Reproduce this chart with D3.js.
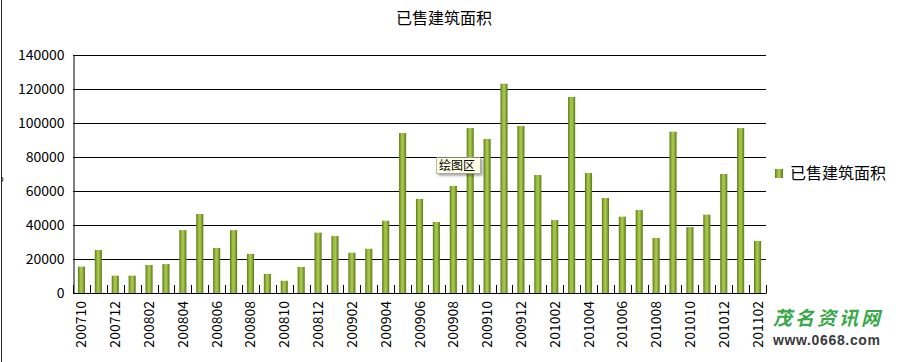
<!DOCTYPE html>
<html><head><meta charset="utf-8">
<script src="https://cdn.jsdelivr.net/npm/d3@7"></script>
<style>
html,body{margin:0;padding:0;background:#fff;}
svg{display:block;}
</style></head>
<body>
<script>
const title = "已售建筑面积";
const seriesName = "已售建筑面积";
const categories = ["200710","200711","200712","200801","200802","200803","200804","200805","200806","200807","200808","200809","200810","200811","200812","200901","200902","200903","200904","200905","200906","200907","200908","200909","200910","200911","200912","201001","201002","201003","201004","201005","201006","201007","201008","201009","201010","201011","201012","201101","201102"];
const values = [15500,25300,10200,10200,16500,17000,37000,46500,26500,37000,23000,11200,7200,15300,35500,33500,23700,26000,42500,94100,55300,41800,63000,97000,90600,123100,98200,69400,42900,115300,70600,55900,44900,48800,32400,94900,38800,46100,70000,97000,30600];
const yTicks = [0,20000,40000,60000,80000,100000,120000,140000];

const W = 903, H = 362;
const svg = d3.select("body").append("svg").attr("width", W).attr("height", H);
const defs = svg.append("defs");
const g1 = defs.append("linearGradient").attr("id","barg").attr("x1","0").attr("x2","1").attr("y1","0").attr("y2","0");
[["0%","#5c7a18"],["35%","#9fc043"],["55%","#a9c94f"],["100%","#5a7816"]].forEach(([o,c])=>g1.append("stop").attr("offset",o).attr("stop-color",c));
const sh = defs.append("filter").attr("id","sh").attr("x","-20%").attr("y","-20%").attr("width","150%").attr("height","160%");
sh.append("feDropShadow").attr("dx",2).attr("dy",2).attr("stdDeviation",1).attr("flood-color","#000").attr("flood-opacity",0.35);

const pL = 73, pR = 766, pT = 55, pB = 293;
const x = d3.scaleBand().domain(categories).range([pL, pR]).paddingInner(0.58).paddingOuter(0.29);
const y = d3.scaleLinear().domain([0,140000]).range([pB, pT]);
const font = "'Noto Sans CJK SC', sans-serif";

// border line at left
svg.append("line").attr("x1",1.5).attr("x2",1.5).attr("y1",0).attr("y2",H).attr("stroke","#222").attr("stroke-width",1);
svg.append("path").attr("d","M1,176 q4,3 0,7").attr("fill","none").attr("stroke","#333");

// title
svg.append("text").attr("x",444).attr("y",24).attr("text-anchor","middle").attr("font-family",font).attr("font-size",16).attr("fill","#000").text(title);

// gridlines
svg.append("g").selectAll("line").data(yTicks).join("line")
  .attr("x1",pL).attr("x2",pR).attr("y1",d=>Math.round(y(d))+0.5).attr("y2",d=>Math.round(y(d))+0.5)
  .attr("stroke","#000").attr("stroke-width",1);

// y axis
const ya = d3.axisLeft(y).tickValues(yTicks).tickSize(0).tickPadding(9).tickFormat(d3.format("d"));
const yg = svg.append("g").attr("transform",`translate(${pL+0.5},0.5)`).call(ya);
yg.select(".domain").attr("stroke","#000");
yg.selectAll("text").attr("font-family",font).attr("font-size",14).attr("fill","#000");

// bars
svg.append("g").selectAll("rect").data(values).join("rect")
  .attr("x",(d,i)=>x(categories[i]))
  .attr("width",x.bandwidth())
  .attr("y",d=>y(d))
  .attr("height",d=>pB-y(d))
  .attr("fill","url(#barg)");

// x axis with ticks at category boundaries
const bounds = d3.range(categories.length+1).map(i=>pL + i*(pR-pL)/categories.length);
svg.append("g").selectAll("line").data(bounds).join("line")
  .attr("x1",d=>Math.round(d)+0.5).attr("x2",d=>Math.round(d)+0.5)
  .attr("y1",pB-8).attr("y2",pB).attr("stroke","#000");
svg.append("line").attr("x1",pL).attr("x2",pR+0.5).attr("y1",pB+0.5).attr("y2",pB+0.5).attr("stroke","#000");

svg.append("g").selectAll("text").data(categories.filter((c,i)=>i%2===0)).join("text")
  .attr("transform",d=>`translate(${x(d)+x.bandwidth()/2+5},301) rotate(-90)`)
  .attr("text-anchor","end").attr("font-family",font).attr("font-size",14).attr("fill","#000").text(d=>d);

// legend
svg.append("rect").attr("x",775).attr("y",169).attr("width",8).attr("height",9).attr("fill","url(#barg)");
svg.append("text").attr("x",790).attr("y",179).attr("font-family",font).attr("font-size",16).attr("fill","#000").text(seriesName);

// tooltip
const tt = svg.append("g");
tt.append("rect").attr("x",436.5).attr("y",157.5).attr("width",44).attr("height",16).attr("fill","#ffffe6").attr("stroke","#777").attr("stroke-width",0.5).attr("filter","url(#sh)");
tt.append("text").attr("x",439).attr("y",170).attr("font-family",font).attr("font-size",12).attr("fill","#000").text("绘图区");

// watermark
svg.append("text").attr("x",773).attr("y",325).attr("font-family",font).attr("font-size",19).attr("font-weight","bold").attr("font-style","italic").attr("fill","#3aa84a").attr("textLength",107).text("茂名资讯网");
svg.append("text").attr("x",773).attr("y",345).attr("font-family","'Liberation Sans', Arial, sans-serif").attr("font-size",14).attr("font-weight","bold").attr("fill","#3a3a3a").attr("textLength",107).text("www.0668.com");
</script>
</body></html>
